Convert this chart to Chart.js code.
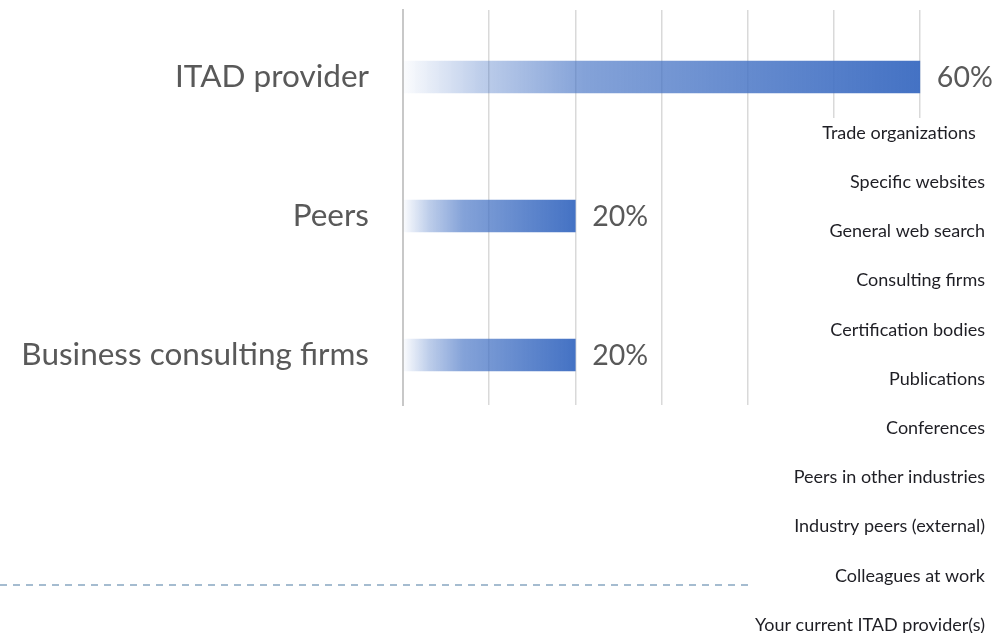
<!DOCTYPE html>
<html>
<head>
<title>ITAD sources</title>
<script src="https://cdn.jsdelivr.net/npm/chart.js"></script>
<style>
    body { margin: 0; background: #fff; }
    #chart-container { position: relative; width: 1007px; height: 633px; }
</style>
</head>
<body>
<div id="chart-container">
    <canvas id="barChart"></canvas>
</div>
<script>
// data
const categories = ['ITAD provider', 'Peers', 'Business consulting firms'];
const shares = [60, 20, 20];
const sourceList = [
    'Trade organizations  ', 'Specific websites', 'General web search', 'Consulting firms',
    'Certification bodies', 'Publications', 'Conferences', 'Peers in other industries',
    'Industry peers (external)', 'Colleagues at work', 'Your current ITAD provider(s)'
];

const BLUE = [68, 114, 196];
const FONT = "Lato, 'Liberation Sans', sans-serif";

function barGradient(ctx) {
    const chart = ctx.chart;
    const x = chart.scales.x;
    if (!x || !ctx.parsed) return 'rgb(68,114,196)';
    const x0 = x.getPixelForValue(0);
    const x1 = x.getPixelForValue(ctx.parsed.x);
    if (!isFinite(x0) || !isFinite(x1) || x1 <= x0) return 'rgb(68,114,196)';
    const g = chart.ctx.createLinearGradient(x0, 0, x1, 0);
    const c = a => `rgba(${BLUE[0]},${BLUE[1]},${BLUE[2]},${a})`;
    g.addColorStop(0, c(0.02));
    g.addColorStop(0.15, c(0.35));
    g.addColorStop(0.35, c(0.66));
    g.addColorStop(1, c(1));
    return g;
}

// value labels at the end of each bar
const valueLabels = {
    id: 'valueLabels',
    afterDatasetsDraw(chart) {
        const ctx = chart.ctx;
        const meta = chart.getDatasetMeta(0);
        ctx.save();
        ctx.font = '28.5px ' + FONT;
        ctx.fillStyle = '#595959';
        ctx.textBaseline = 'middle';
        ctx.textAlign = 'left';
        meta.data.forEach((bar, i) => {
            ctx.fillText(shares[i] + '%', bar.x + 17, bar.y + 1);
        });
        ctx.restore();
    }
};

// leftover list on the right and dashed rule
const sidePanel = {
    id: 'sidePanel',
    afterDraw(chart) {
        const ctx = chart.ctx;
        ctx.save();
        ctx.fillStyle = '#fff';
        ctx.fillRect(756, 118, 251, 515);
        ctx.font = '18px ' + FONT;
        ctx.fillStyle = '#1e1e24';
        ctx.textAlign = 'right';
        ctx.textBaseline = 'middle';
        sourceList.forEach((s, i) => {
            ctx.fillText(s, 985, 133 + i * 49.2);
        });
        ctx.strokeStyle = '#a5bcd0';
        ctx.lineWidth = 2;
        ctx.setLineDash([7, 6]);
        ctx.beginPath();
        ctx.moveTo(0, 585);
        ctx.lineTo(750, 585);
        ctx.stroke();
        ctx.restore();
    }
};

new Chart(document.getElementById('barChart'), {
    type: 'bar',
    data: {
        datasets: [{
            data: shares.map((v, i) => ({ x: v, y: i })),
            backgroundColor: barGradient,
            borderWidth: 0,
            barThickness: 32
        }]
    },
    options: {
        indexAxis: 'y',
        responsive: true,
        maintainAspectRatio: false,
        animation: false,
        layout: { padding: { top: 10, bottom: 228, right: 1, left: 0 } },
        plugins: { legend: { display: false }, tooltip: { enabled: false } },
        scales: {
            x: {
                type: 'linear',
                min: 0,
                max: 70,
                ticks: { display: false, stepSize: 10 },
                grid: {
                    drawTicks: false,
                    lineWidth: 1.5,
                    color: c => c.tick && c.tick.value === 70 ? 'rgba(0,0,0,0)' : '#d9d9d9'
                },
                border: { display: false }
            },
            y: {
                type: 'linear',
                min: -0.482,
                max: 2.36,
                reverse: true,
                offset: false,
                afterBuildTicks: s => { s.ticks = categories.map((c, i) => ({ value: i })); },
                afterFit: s => { s.width = 403; s.paddingTop = 0; s.paddingBottom = 0; },
                ticks: {
                    callback: v => categories[v],
                    font: { family: FONT, size: 31.5 },
                    color: '#595959',
                    padding: 34
                },
                grid: { display: false, drawTicks: false, offset: false },
                border: { display: true, color: '#c8c8c8', width: 2 }
            }
        }
    },
    plugins: [valueLabels, sidePanel]
});
</script>
</body>
</html>
